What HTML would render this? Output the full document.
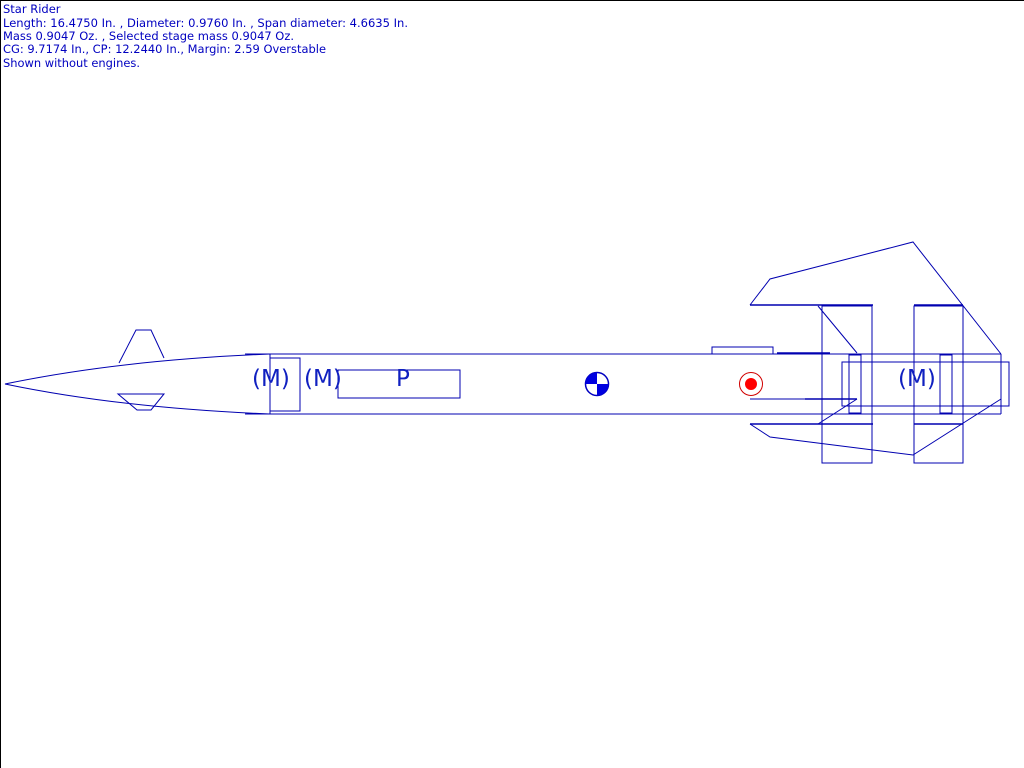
<!DOCTYPE html>
<html><head><style>html,body{margin:0;padding:0;background:#fff;}svg{display:block}</style></head><body>
<svg width="1024" height="768" viewBox="0 0 1024 768" xmlns="http://www.w3.org/2000/svg">
<rect x="0.5" y="0.5" width="1030" height="800" fill="#fff" stroke="#000"/>
<g font-family="Tahoma, 'DejaVu Sans', 'Liberation Sans', sans-serif" font-size="11.5" fill="#0000c0">
<text x="3" y="13">Star Rider</text>
<text x="3" y="27" textLength="405" lengthAdjust="spacingAndGlyphs">Length: 16.4750 In. , Diameter: 0.9760 In. , Span diameter: 4.6635 In.</text>
<text x="3" y="40" textLength="291" lengthAdjust="spacingAndGlyphs">Mass 0.9047 Oz. , Selected stage mass 0.9047 Oz.</text>
<text x="3" y="53" textLength="323" lengthAdjust="spacingAndGlyphs">CG: 9.7174 In., CP: 12.2440 In., Margin: 2.59 Overstable</text>
<text x="3" y="67" textLength="137" lengthAdjust="spacingAndGlyphs">Shown without engines.</text>
</g>
<g fill="none" stroke="#0000b0" stroke-width="1">
<path d="M270,354 Q120,360 5,384 Q120,408 270,414"/>
<line x1="245" y1="354" x2="1001" y2="354"/>
<line x1="245" y1="414" x2="1001" y2="414"/>
<line x1="1001" y1="354" x2="1001" y2="414"/>
<rect x="270" y="358" width="30" height="53"/>
<line x1="270" y1="354" x2="270" y2="414"/>
<rect x="338" y="370" width="122" height="28"/>
<rect x="712" y="347" width="61" height="7"/>
<polyline points="119,363 136,330 151,330 164,358"/>
<polygon points="118,394 164,394 151,410 137,410"/>
<polyline points="750,305 770,279 913,242 1001,354"/>
<line x1="750" y1="305" x2="873" y2="305" stroke-width="1.5"/>
<polyline points="750,424 770,437 913,455 1001,399"/>
<line x1="750" y1="424" x2="873" y2="424" stroke-width="1.5"/>
<line x1="914" y1="424" x2="963" y2="424" stroke-width="1.5"/>
<line x1="914" y1="305" x2="963" y2="305" stroke-width="1.5"/>
<rect x="822" y="306" width="50" height="157"/>
<rect x="914" y="306" width="49" height="157"/>
<line x1="818" y1="306" x2="857" y2="353"/>
<line x1="818" y1="424" x2="857" y2="399"/>
<rect x="842" y="362" width="167" height="44"/>
<rect x="849" y="355" width="12" height="58"/>
<rect x="940" y="355" width="12" height="58"/>
<line x1="750" y1="399" x2="857" y2="399"/>
<line x1="805" y1="399" x2="857" y2="399" stroke-width="1.5"/>
<line x1="777" y1="353" x2="830" y2="353" stroke-width="1.5"/>
</g>
<g font-family="Tahoma, 'DejaVu Sans', 'Liberation Sans', sans-serif" font-size="23" fill="#1020c0">
<text x="252" y="386">(M)</text>
<text x="304" y="386">(M)</text>
<text x="396" y="386">P</text>
<text x="898" y="386">(M)</text>
</g>
<circle cx="597" cy="384" r="11.5" fill="#fff" stroke="#0000c0" stroke-width="1.5"/>
<path d="M597,384 L597,372.5 A11.5,11.5 0 0 0 585.5,384 Z" fill="#0000e0"/>
<path d="M597,384 L597,395.5 A11.5,11.5 0 0 0 608.5,384 Z" fill="#0000e0"/>
<circle cx="751" cy="384" r="11.5" fill="none" stroke="#d00000" stroke-width="1"/>
<circle cx="751" cy="384" r="6" fill="#ff0000"/>
</svg>
</body></html>
